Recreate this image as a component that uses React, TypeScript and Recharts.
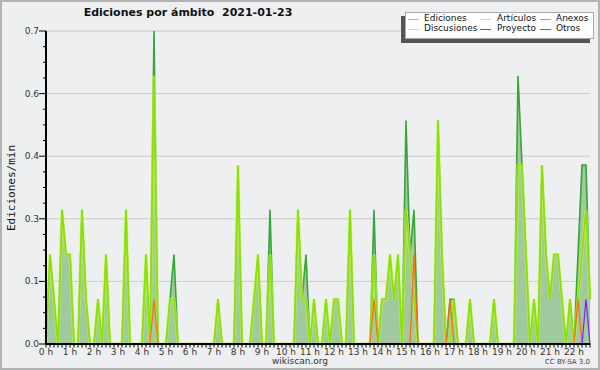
import { ComposedChart, Area, Line, XAxis, YAxis, CartesianGrid, ReferenceLine } from 'recharts'

// ediciones por minuto, bins de 10 min (00:00 -> 22:40), una fila = una hora
const ediciones = [
  0, 0.2, 0.1, 0, 0.3, 0.2,
  0.2, 0, 0, 0.3, 0.1, 0,
  0, 0.1, 0, 0.2, 0, 0,
  0, 0, 0.3, 0, 0, 0,
  0, 0.2, 0, 0.7, 0, 0,
  0, 0.1, 0.2, 0, 0, 0,
  0, 0, 0, 0, 0, 0,
  0, 0.1, 0, 0, 0, 0,
  0.4, 0, 0, 0, 0.1, 0.2,
  0, 0, 0.3, 0, 0, 0,
  0, 0, 0, 0.3, 0.1, 0.2,
  0, 0.1, 0, 0, 0.1, 0,
  0.1, 0.1, 0, 0, 0.3, 0,
  0, 0, 0, 0, 0.3, 0,
  0.1, 0.1, 0.2, 0.1, 0.2, 0,
  0.5, 0.2, 0.3, 0, 0, 0,
  0, 0, 0.5, 0.2, 0, 0.1,
  0.1, 0, 0, 0, 0.1, 0,
  0, 0, 0, 0, 0.1, 0,
  0, 0, 0, 0, 0.6, 0.4,
  0.2, 0, 0.1, 0, 0.4, 0.2,
  0.1, 0.2, 0.2, 0.1, 0, 0.1,
  0, 0.2, 0.4, 0.4, 0.1,
]

const articulos = [
  0, 0.2, 0.1, 0, 0.3, 0.2,
  0.2, 0, 0, 0.3, 0.1, 0,
  0, 0.1, 0, 0.2, 0, 0,
  0, 0, 0.3, 0, 0, 0,
  0, 0.2, 0, 0.6, 0, 0,
  0, 0.1, 0.1, 0, 0, 0,
  0, 0, 0, 0, 0, 0,
  0, 0.1, 0, 0, 0, 0,
  0.4, 0, 0, 0, 0.1, 0.2,
  0, 0, 0.2, 0, 0, 0,
  0, 0, 0, 0.3, 0.1, 0.1,
  0, 0.1, 0, 0, 0.1, 0,
  0.1, 0.1, 0, 0, 0.3, 0,
  0, 0, 0, 0, 0.2, 0,
  0.1, 0.1, 0.2, 0.1, 0.2, 0,
  0.3, 0.2, 0.1, 0, 0, 0,
  0, 0, 0.5, 0.2, 0, 0,
  0.1, 0, 0, 0, 0.1, 0,
  0, 0, 0, 0, 0.1, 0,
  0, 0, 0, 0, 0.4, 0.4,
  0.2, 0, 0.1, 0, 0.4, 0.2,
  0.1, 0.2, 0.2, 0.1, 0, 0.1,
  0, 0.1, 0.2, 0.3, 0.1,
]

// anexos / otros: sólo unos pocos bins distintos de cero
const anexosBins = [27, 82, 92, 101, 133]
const anexosVals = [0.1, 0.1, 0.2, 0.1, 0.1]
const otrosBins = [135]
const otrosVals = [0.1]

const hours = [0, 1, 2, 3, 4, 5, 6, 7, 8, 9, 10, 11, 12, 13, 14, 15, 16, 17, 18, 19, 20, 21, 22]
const yMajor = [0, 0.14, 0.28, 0.42, 0.56, 0.7]

const legendItems = [
  { name: 'Ediciones', color: '#8fd08f' },
  { name: 'Artículos', color: '#c8f040' },
  { name: 'Anexos', color: '#ff7f50' },
  { name: 'Discusiones', color: '#ffd040' },
  { name: 'Proyecto', color: '#606060' },
  { name: 'Otros', color: '#9040f0' },
]

const pick = (bins: number[], vals: number[], i: number) => {
  const k = bins.indexOf(i)
  return k >= 0 ? vals[k] : 0
}

const data = ediciones.map((v, i) => ({
  t: i * 10,
  ediciones: v,
  articulos: articulos[i],
  anexos: pick(anexosBins, anexosVals, i),
  discusiones: 0,
  proyecto: 0,
  otros: pick(otrosBins, otrosVals, i),
}))

const xTicks = data.map(d => d.t)
const yTicks: number[] = []
yMajor.forEach((v, k) => {
  if (k === 0) return
  const step = (v - yMajor[k - 1]) / 4
  for (let j = 0; j < 4; j++) yTicks.push(yMajor[k - 1] + step * j)
})
yTicks.push(0.7)

const font = '"DejaVu Sans", sans-serif'

function XTick(props: any) {
  const { x, y, payload } = props
  const h = payload.value / 60
  const isHour = hours.includes(h)
  return (
    <g>
      <line x1={x} x2={x} y1={y} y2={y + 3.5} stroke="#000" strokeWidth={1} />
      {isHour && (
        <text x={x} y={y + 11} textAnchor="middle" fontSize={9} fontFamily={font} fill="#333">
          {h + ' h'}
        </text>
      )}
    </g>
  )
}

function YTick(props: any) {
  const { x, y, payload } = props
  const isMajor = yMajor.some(m => Math.abs(m - payload.value) < 1e-6)
  return (
    <g>
      <line x1={x - (isMajor ? 7 : 3)} x2={x} y1={y} y2={y} stroke="#000" strokeWidth={1} />
      {isMajor && (
        <text x={x - 7} y={y + 3} textAnchor="end" fontSize={9} fontFamily={font} fill="#333">
          {payload.value.toFixed(1)}
        </text>
      )}
    </g>
  )
}

export default function App() {
  return (
    <div style={{ position: 'absolute', left: 0, top: 0, width: 600, height: 370, background: '#eeeff1', fontFamily: font }}>
      <ComposedChart width={600} height={370} data={data} margin={{ top: 31, right: 10, bottom: 0, left: 0 }}>
        <CartesianGrid vertical={false} horizontalValues={yMajor} stroke="#cbcbcb" />
        <XAxis
          dataKey="t"
          type="number"
          domain={[0, 1360]}
          ticks={xTicks}
          interval={0}
          height={26}
          tickSize={0}
          tickMargin={0}
          tick={<XTick />}
          axisLine={{ stroke: '#000', strokeWidth: 2 }}
        />
        <YAxis
          type="number"
          domain={[0, 0.7]}
          ticks={yTicks}
          interval={0}
          width={46}
          tickSize={0}
          tickMargin={0}
          tick={<YTick />}
          axisLine={{ stroke: '#000', strokeWidth: 2 }}
        />
        <Line dataKey="discusiones" stroke="#ffd040" dot={false} activeDot={false} isAnimationActive={false} />
        <Line dataKey="proyecto" stroke="#606060" dot={false} activeDot={false} isAnimationActive={false} />
        <Area
          dataKey="ediciones"
          type="linear"
          stroke="#36a53a"
          strokeWidth={1.6}
          fill="#a0c9a0"
          fillOpacity={1}
          dot={false}
          activeDot={false}
          isAnimationActive={false}
        />
        <Line dataKey="articulos" type="linear" stroke="#c4f560" strokeWidth={3} strokeOpacity={0.7} dot={false} activeDot={false} isAnimationActive={false} />
        <Line dataKey="articulos" type="linear" stroke="#8ee000" strokeWidth={1.6} dot={false} activeDot={false} isAnimationActive={false} />
        <Line dataKey="anexos" type="linear" stroke="#ff6a10" strokeWidth={1.2} dot={false} activeDot={false} isAnimationActive={false} />
        <Line dataKey="otros" type="linear" stroke="#8020ff" strokeWidth={1.2} dot={false} activeDot={false} isAnimationActive={false} />
        <ReferenceLine y={0} stroke="#000" strokeWidth={2} />
      </ComposedChart>

      <div style={{ position: 'absolute', left: 0, top: 6, width: 376, textAlign: 'center', fontSize: 11, fontWeight: 'bold', color: '#111', whiteSpace: 'pre' }}>
        {'Ediciones por ámbito  2021-01-23'}
      </div>

      <div
        style={{
          position: 'absolute',
          left: 11,
          top: 188,
          transform: 'translate(-50%, -50%) rotate(-90deg)',
          fontFamily: '"DejaVu Sans Mono", monospace',
          fontSize: 11,
          color: '#111',
          whiteSpace: 'nowrap',
        }}
      >
        Ediciones/min
      </div>

      <div style={{ position: 'absolute', left: 405, top: 12, width: 187, height: 25, background: '#fff', border: '1px solid #a8a8a8', boxShadow: '-4px 4px 0 #555' }}>
        {legendItems.map((it, k) => {
          const col = k % 3
          const row = Math.floor(k / 3)
          const sx = [2, 74, 134][col]
          const tx = [18, 91, 150][col]
          const cy = row === 0 ? 6 : 16
          return (
            <div key={it.name}>
              <div style={{ position: 'absolute', left: sx, top: cy, width: 11, height: 1, background: it.color }} />
              <div style={{ position: 'absolute', left: tx, top: cy - 6, fontSize: 9, lineHeight: '11px', color: '#111', whiteSpace: 'nowrap' }}>
                {it.name}
              </div>
            </div>
          )
        })}
      </div>

      <div style={{ position: 'absolute', left: 0, top: 356, width: 600, textAlign: 'center', fontSize: 9, color: '#333' }}>wikiscan.org</div>
      <div style={{ position: 'absolute', right: 10, top: 358, fontSize: 7, color: '#444' }}>CC BY-SA 3.0</div>
      <div style={{ position: 'absolute', left: 0, top: 0, width: 600, height: 370, boxSizing: 'border-box', border: '2px solid #b2b2b2', pointerEvents: 'none' }} />
    </div>
  )
}
